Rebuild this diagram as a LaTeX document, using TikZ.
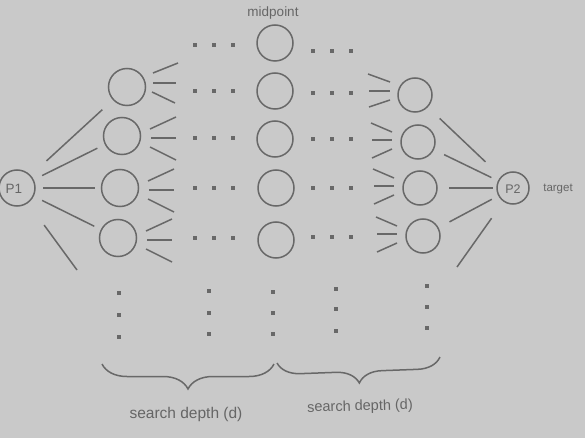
\documentclass[tikz,border=0pt]{standalone}
\usepackage{fontspec}
\setmainfont{Liberation Sans}
\usetikzlibrary{decorations.pathreplacing}
\definecolor{bggray}{HTML}{C9C9C9}
\definecolor{linegray}{HTML}{686868}
\definecolor{textgray}{HTML}{666666}
\begin{document}
\begin{tikzpicture}[x=1pt,y=-1pt,
  state/.style={circle,draw=linegray,line width=1.5pt,inner sep=0pt,outer sep=0pt,minimum size=#1},
  state/.default=36pt,
  conn/.style={draw=linegray,line width=1.5pt},
  sqdot/.style={fill=linegray},
  bracestyle/.style={draw=linegray,line width=1.5pt,decorate},
  lbl/.style={text=textgray,inner sep=0pt}]
\fill[bggray] (0,0) rectangle (585,438);
\useasboundingbox (0,0) rectangle (585,438);

% end nodes
\node[state=36pt] (p1) at (17,188) {};
\node[lbl,font=\fontsize{13.5}{14}\selectfont] (p1t) at (14,189) {P1};
\node[state=32pt] (p2) at (513,188) {};
\node[lbl,font=\fontsize{12.5}{14}\selectfont] (p2t) at (513,189) {P2};
\node[lbl,font=\fontsize{11.5}{13}\selectfont] (tgt) at (558,189) {target};
\node[lbl,font=\fontsize{13.5}{14}\selectfont] (mid) at (273,13) {midpoint};

% left column
\node[state=37pt] (l1) at (127,87) {};
\node[state=37pt] (l2) at (122,136) {};
\node[state=37pt] (l3) at (120,188) {};
\node[state=37pt] (l4) at (118,238) {};
% middle column
\node[state=36pt] (m0) at (275,43) {};
\node[state=36pt] (m1) at (275,91) {};
\node[state=36pt] (m2) at (275,139) {};
\node[state=36pt] (m3) at (276,188) {};
\node[state=36pt] (m4) at (276,240) {};
% right column
\node[state=34pt] (r1) at (415,95) {};
\node[state=34pt] (r2) at (418,142) {};
\node[state=34pt] (r3) at (420,188) {};
\node[state=34pt] (r4) at (423,236) {};

\coordinate (p1x) at (77,270);
\coordinate (p2x) at (457,267);

% P1 connectors
\draw[conn,shorten <=22pt,shorten >=15pt] (p1) -- (l1);
\draw[conn,shorten <=10pt,shorten >=9pt] (p1) -- (l2);
\draw[conn,shorten <=8pt,shorten >=7pt] (p1) -- (l3);
\draw[conn,shorten <=10pt,shorten >=8pt] (p1) -- (l4);
\draw[conn,shorten <=28pt] (p1) -- (p1x);
% P2 connectors
\draw[conn,shorten <=17pt,shorten >=22pt] (r1) -- (p2);
\draw[conn,shorten <=12pt,shorten >=8pt] (r2) -- (p2);
\draw[conn,shorten <=12pt,shorten >=4pt] (r3) -- (p2);
\draw[conn,shorten <=13pt,shorten >=8pt] (r4) -- (p2);
\draw[conn,shorten <=21pt] (p2) -- (p2x);

% left fan stubs
\draw[conn] ([shift={(26,-14)}]l1.center) -- ([shift={(51,-24)}]l1.center);
\draw[conn] ([shift={(26,-4)}]l1.center) -- ([shift={(49,-4)}]l1.center);
\draw[conn] ([shift={(25,5)}]l1.center) -- ([shift={(48,16)}]l1.center);
\foreach \n in {l2,l3,l4}{
  \draw[conn] ([shift={(28,-7)}]\n.center) -- ([shift={(54,-19)}]\n.center);
  \draw[conn] ([shift={(29,2)}]\n.center) -- ([shift={(54,2)}]\n.center);
  \draw[conn] ([shift={(28,11)}]\n.center) -- ([shift={(54,24)}]\n.center);
}
% right fan stubs
\draw[conn] ([shift={(-47,-21)}]r1.center) -- ([shift={(-25,-13)}]r1.center);
\draw[conn] ([shift={(-46,-4)}]r1.center) -- ([shift={(-25,-4)}]r1.center);
\draw[conn] ([shift={(-46,12)}]r1.center) -- ([shift={(-25,5)}]r1.center);
\foreach \n in {r2,r3,r4}{
  \draw[conn] ([shift={(-47,-19)}]\n.center) -- ([shift={(-26,-10)}]\n.center);
  \draw[conn] ([shift={(-46,-2)}]\n.center) -- ([shift={(-26,-2)}]\n.center);
  \draw[conn] ([shift={(-46,16)}]\n.center) -- ([shift={(-26,7)}]\n.center);
}

% horizontal dot rows
\foreach \y/\yy in {45/51, 91/93, 138/139, 188/188, 238/237}{
  \foreach \x in {195,214,233}
    \fill[sqdot] (\x-2,\y-2) rectangle ++(4,4);
  \foreach \x in {313,332,351}
    \fill[sqdot] (\x-2,\yy-2) rectangle ++(4,4);
}
% vertical dot columns
\foreach \x/\a/\b/\c in {119/293/315/337, 209/291/313/334, 273/292/313/334, 336/289/309/331, 427/286/307/328}{
  \foreach \y in {\a,\b,\c}
    \fill[sqdot] (\x-2,\y-2) rectangle ++(4,4);
}

% braces
\coordinate (b1a) at (102,364);
\coordinate (b1b) at (274,364);
\coordinate (b2a) at (277,363);
\coordinate (b2b) at (440,357);
\draw[bracestyle,decoration={brace,mirror,amplitude=25pt}] (b1a) -- (b1b);
\draw[bracestyle,decoration={brace,mirror,amplitude=23pt}] (b2a) -- (b2b);

\node[lbl,font=\fontsize{15.5}{17}\selectfont] (sd1) at (186,414) {search depth (d)};
\node[lbl,font=\fontsize{14.5}{16}\selectfont,rotate=1.5] (sd2) at (360,407) {search depth (d)};
\end{tikzpicture}
\end{document}
